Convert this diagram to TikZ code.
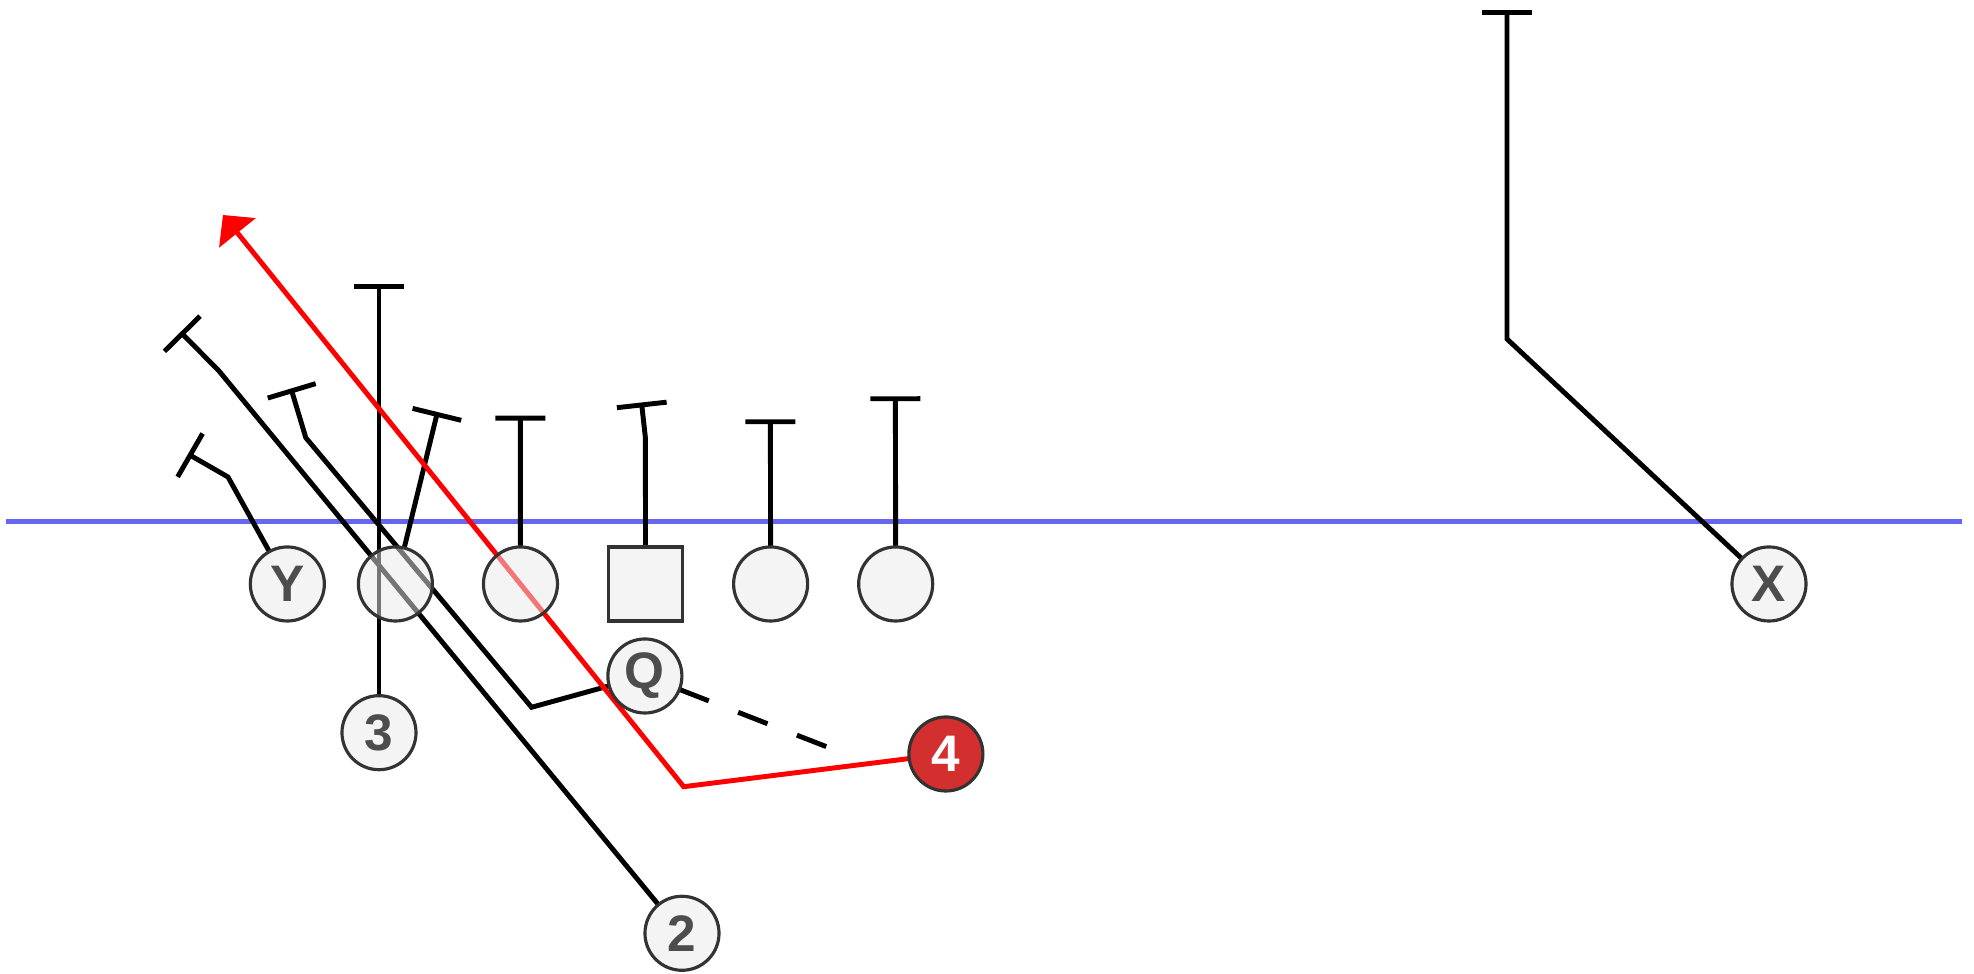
\documentclass[tikz,border=0pt]{standalone}
\usepackage{fontspec}
\setmainfont{Liberation Sans}
\usepackage{xcolor}
\usetikzlibrary{positioning}
\usetikzlibrary{arrows.meta}
\definecolor{losblue}{RGB}{102,102,238}
\definecolor{ink}{RGB}{51,51,51}
\definecolor{lbl}{RGB}{77,77,77}
\definecolor{pfill}{RGB}{235,235,235}
\definecolor{hot}{RGB}{211,47,47}
\pgfdeclarelayer{back}
\pgfsetlayers{back,main}
\tikzset{x=0.01cm, y=-0.01cm,
      player/.style={circle, draw=ink, line width=0.9pt, fill=pfill,
      fill opacity=0.5, text opacity=1, minimum size=0.74cm,
      inner sep=0pt, outer sep=0pt, text=lbl,
      font=\fontsize{14.6}{16}\selectfont\bfseries},
      snap/.style={player, rectangle},
      hotplayer/.style={player, fill=hot, fill opacity=1, text=white},
      route/.style={draw, line width=1.4pt, -{Bar[width=0.5cm]}},
      pitch/.style={draw, line width=1.4pt, dash pattern=on 0.315cm off 0.315cm},
      hotroute/.style={draw, red, line width=1.4pt,
      -{Triangle[length=0.23cm, width=0.46cm]}},
      scrimmage/.style={draw, losblue, line width=1.6pt}}

\begin{document}
\begin{tikzpicture}
          \useasboundingbox (0,0) rectangle (1974,974);
          \node[player] (lt) at (395.4,584) {};
          \node[player, right=0.51cm of lt] (lg) {};
          \node[snap, right=0.51cm of lg] (c) {};
          \node[player, right=0.51cm of c] (rg) {};
          \node[player, right=0.51cm of rg] (rt) {};
          \node[player, left=0.34cm of lt] (y) {Y};
          \node[player] (x) at (1769,584) {X};
          \node[player] (q) at (644.9,676) {Q};
          \node[player] (b3) at (379,732.7) {3};
          \node[player] (b2) at (682,933.3) {2};
          \node[hotplayer] (b4) at (945.9,754) {4};
          \coordinate (losl) at (6,521.5);
          \coordinate (losr) at (1961.5,521.5);
          \coordinate (ybend) at (228,477);
          \coordinate (yend) at (188,454);
          \coordinate (ltend) at (437.5,412);
          \coordinate (thrend) at (379,284.3);
          \coordinate (twobend) at (219,371);
          \coordinate (twoend) at (180.5,332);
          \coordinate (qbend) at (531.6,707.3);
          \coordinate (qturn) at (305.8,437.7);
          \coordinate (qend) at (291,388.5);
          \coordinate (lgend) at (520.4,415.7);
          \coordinate (cbend) at (645.4,437.7);
          \coordinate (cend) at (641.5,402.5);
          \coordinate (rgend) at (770.4,419.3);
          \coordinate (rtend) at (895.4,396.3);
          \coordinate (xbend) at (1507,339);
          \coordinate (xend) at (1507,10.4);
          \coordinate (pitchend) at (826.5,746.7);
          \coordinate (fourbend) at (683.7,786.7);
          \coordinate (fourend) at (223,215);
          \begin{pgfonlayer}{back}
          \fill[white] (0,0) rectangle (1974,974);
          \draw[scrimmage] (losl) -- (losr);
          \draw[route] (y) -- (ybend) -- (yend);
          \draw[route] (lt) -- (ltend);
          \draw[route] (b3) -- (thrend);
          \draw[route] (b2) -- (twobend) -- (twoend);
          \draw[route] (q) -- (qbend) -- (qturn) -- (qend);
          \draw[route] (lg) -- (lgend);
          \draw[route] (c) -- (cbend) -- (cend);
          \draw[route] (rg) -- (rgend);
          \draw[route] (rt) -- (rtend);
          \draw[route] (x) -- (xbend) -- (xend);
          \draw[pitch] (q) -- (pitchend);
          \draw[hotroute] (b4) -- (fourbend) -- (fourend);
          \end{pgfonlayer}
       \end{tikzpicture}
\end{document}
